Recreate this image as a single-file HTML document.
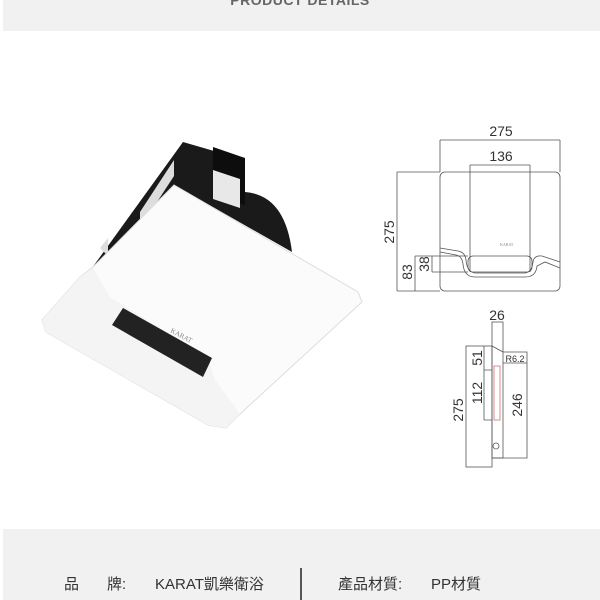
<!DOCTYPE html><html><head><style>body{margin:0;width:600px;height:600px;background:#fff;overflow:hidden;position:relative;font-family:"Liberation Sans","Noto Sans CJK TC",sans-serif}
.band{position:absolute;left:3px;right:0;background:#f1f1f1}
</style></head><body>
<div class="band" style="top:0;height:31px"></div>
<div style="position:absolute;top:-8px;left:0;width:600px;text-align:center;font-size:14px;color:#666;font-weight:bold;letter-spacing:.5px">PRODUCT DETAILS</div>
<div class="band" style="top:529px;height:71px"></div>
<div style="position:absolute;top:573px;font-size:15px;color:#333;left:64px">品</div>
<div style="position:absolute;top:573px;font-size:15px;color:#333;left:107px">牌:</div>
<div style="position:absolute;top:573px;font-size:15px;color:#333;left:155px">KARAT凱樂衛浴</div>
<div style="position:absolute;top:568px;left:300px;width:2px;height:32px;background:#555"></div>
<div style="position:absolute;top:573px;font-size:15px;color:#333;left:338px">產品材質:</div>
<div style="position:absolute;top:573px;font-size:15px;color:#333;left:431px">PP材質</div>
<svg width="600" height="600" style="position:absolute;left:0;top:0" font-family="Liberation Sans,sans-serif">
<!-- product -->
<path d="M92 268 L183 142 L245 160 L245 192 Q285 195 292 252 L176 186 Z" fill="#1a1a1a"/>
<path d="M213 147 L245 158 L245 205 L213 195Z" fill="#0d0d0d"/>
<path d="M213 170 L240 179 L240 208 L213 199Z" fill="#e8e8e8"/>
<path d="M100 248 L108 238 L108 256 Z" fill="#ddd"/>
<path d="M140 212 L174 160 L174 176 L140 228Z" fill="#ddd"/>
<path d="M93 267 L174 185 L358 292 L362 302 L240 414 L226 428 L208 425 L46 332 L42 320 L80 277 Z" fill="#fbfbfb" stroke="#ddd" stroke-width="1"/>
<path d="M80 277 L93 268 L110 297 L208 358 L215 380 L240 414 L226 428 L208 425 L46 332 L42 320Z" fill="#f4f4f4"/>
<path d="M123 308 L212 358 L203 377 L112 325 Z" fill="#222"/>
<text x="170" y="332" font-size="7" fill="#888" transform="rotate(28 170 332)" font-family="Liberation Serif">KARAT</text>
<g fill="none" stroke="#555" stroke-width="0.8">
<path d="M440 140 V172 M560 140 V172 M440 140 H560"/>
<path d="M470 165 H530 M470 165 V272 M530 165 V272"/>
<rect x="440" y="172" width="120" height="119" rx="5"/>
<path d="M397 172 H440 M397 291 H440 M397 172 V291"/>
<path d="M415 256 H468 M415 256 V291 M432 256 V272 M432 272 H468"/>
<path d="M440 248 L458 251 Q465 252 466 260 Q467 272 475 273 H525 Q532 272 533 262 Q534 255 542 256 L560 262"/>
<path d="M440 252 L456 255 Q462 256 463 264 Q464 277 475 277 H525 Q536 277 537 266 L545 262 L560 268"/>
<rect x="468" y="256" width="64" height="16" rx="5"/>
<rect x="466" y="346" width="26" height="121"/>
<rect x="492" y="322" width="11" height="136"/>
<path d="M503 352 H527 V458 H492"/>
<path d="M484 346 V420 M484 370 H492 M484 420 H492"/>
<path d="M503 363 H527 M492 346 L503 352"/>
<circle cx="496" cy="446" r="3"/>
</g>
<rect x="494" y="366" width="6" height="54" fill="none" stroke="#d88" stroke-width="1"/>
<text x="500" y="246" font-size="4" fill="#888" font-family="Liberation Serif">KARAT</text>
<g font-size="14" fill="#333" text-anchor="middle">
<text x="501" y="136">275</text>
<text x="501" y="161">136</text>
<text transform="translate(394 232) rotate(-90)">275</text>
<text transform="translate(412 272) rotate(-90)">83</text>
<text transform="translate(429 264) rotate(-90)">38</text>
<text x="497" y="320">26</text>
<text transform="translate(482 358) rotate(-90)">51</text>
<text transform="translate(482 393) rotate(-90)">112</text>
<text transform="translate(463 410) rotate(-90)">275</text>
<text transform="translate(522 405) rotate(-90)">246</text>
<text x="515" y="362" font-size="9">R6.2</text>
</g>
</svg>
</body></html>
